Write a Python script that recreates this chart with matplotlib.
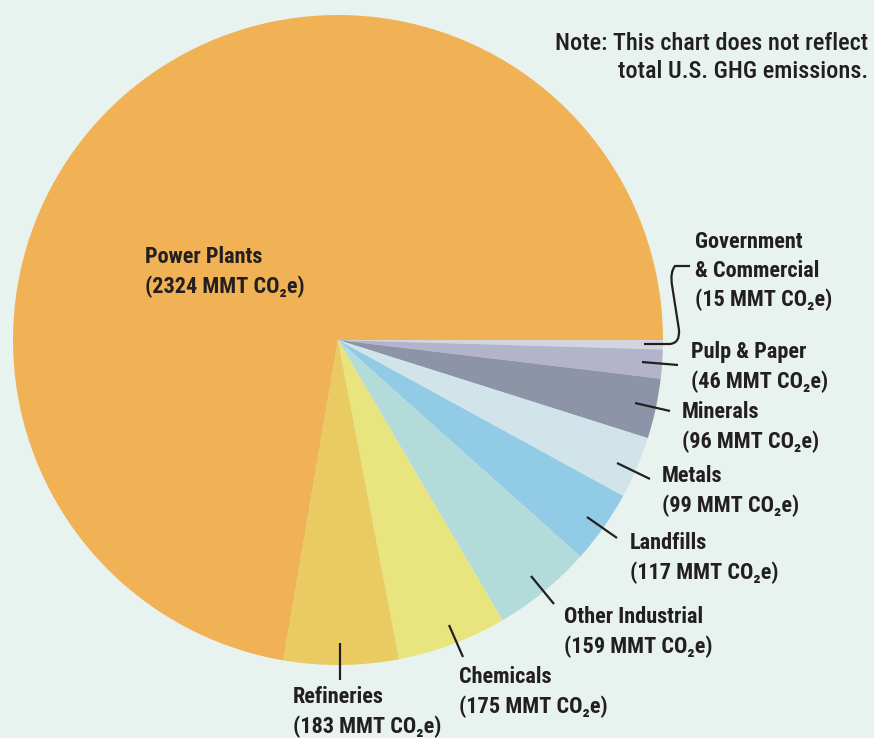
import matplotlib
matplotlib.use("Agg")
import matplotlib.pyplot as plt
from matplotlib import font_manager
from matplotlib.path import Path
from matplotlib.patches import PathPatch

names = {f.name for f in font_manager.fontManager.ttflist}
cands = ['Roboto Condensed', 'Liberation Sans Narrow', 'DejaVu Sans Condensed',
         'Open Sans Condensed', 'Roboto', 'Liberation Sans']
fams = [c for c in cands if c in names] + ['DejaVu Sans']
plt.rcParams['font.family'] = fams

# data
sectors = ['Government\n& Commercial', 'Pulp & Paper', 'Minerals', 'Metals', 'Landfills',
           'Other Industrial', 'Chemicals', 'Refineries', 'Power Plants']
emissions = [15, 46, 96, 99, 117, 159, 175, 183, 2324]
colors = ['#D3D5DE', '#B3B3CC', '#8E94A8', '#D1E4E9', '#92CBE6',
          '#B3DBDA', '#E9E57E', '#EACB62', '#F0B254']

bg = '#E8F3EF'
ink = '#231F20'
H = 738

fig = plt.figure(figsize=(8.74, 7.38), dpi=100, facecolor=bg)
ax = fig.add_axes([0, 0, 1, 1])
ax.set_facecolor(bg)

ax.pie(emissions, colors=colors, startangle=0, counterclock=False,
       center=(338, H - 340), radius=325, wedgeprops=dict(linewidth=0))
ax.set_xlim(0, 874)
ax.set_ylim(0, H)
ax.set_aspect('equal')
ax.axis('off')

def label(name, val, x, y):
    ax.text(x, H - y, '%s\n(%d MMT CO\u2082e)' % (name, val), ha='left', va='top',
            fontsize=16, fontweight='bold', fontstretch='condensed', color=ink,
            linespacing=1.4)

# label positions (pixel coords, top of text block)
pos = {
    'Government\n& Commercial': (695, 231),
    'Pulp & Paper': (691, 341),
    'Minerals': (682, 401),
    'Metals': (662, 465),
    'Landfills': (630, 532),
    'Other Industrial': (564, 606),
    'Chemicals': (459, 666),
    'Refineries': (293, 686),
    'Power Plants': (145, 246),
}
for s, v in zip(sectors, emissions):
    label(s, v, *pos[s])

# leader lines
leaders = [((642, 362), (678, 365)), ((635, 403), (670, 411)), ((617, 463), (650, 479)),
           ((587, 517), (617, 538)), ((531, 576), (554, 604)), ((449, 625), (463, 657)),
           ((340, 643), (340, 680))]
for (x0, y0), (x1, y1) in leaders:
    ax.plot([x0, x1], [H - y0, H - y1], color=ink, lw=1.6, solid_capstyle='butt')

# bracket for government
verts = [(644, 344), (670, 344), (680, 343), (679, 330), (672, 285), (670, 272),
         (675, 266), (690, 266)]
codes = [Path.MOVETO, Path.LINETO, Path.CURVE3, Path.CURVE3, Path.LINETO,
         Path.CURVE3, Path.CURVE3, Path.LINETO]
ax.add_patch(PathPatch(Path([(x, H - y) for x, y in verts], codes), fill=False,
                       edgecolor=ink, lw=1.6))

ax.text(868, H - 32, 'Note: This chart does not reflect\ntotal U.S. GHG emissions.',
        ha='right', va='top', fontsize=17.5, fontweight='medium', fontstretch='condensed',
        color=ink, linespacing=1.3)

fig.savefig('out.png', dpi=100, facecolor=bg)
